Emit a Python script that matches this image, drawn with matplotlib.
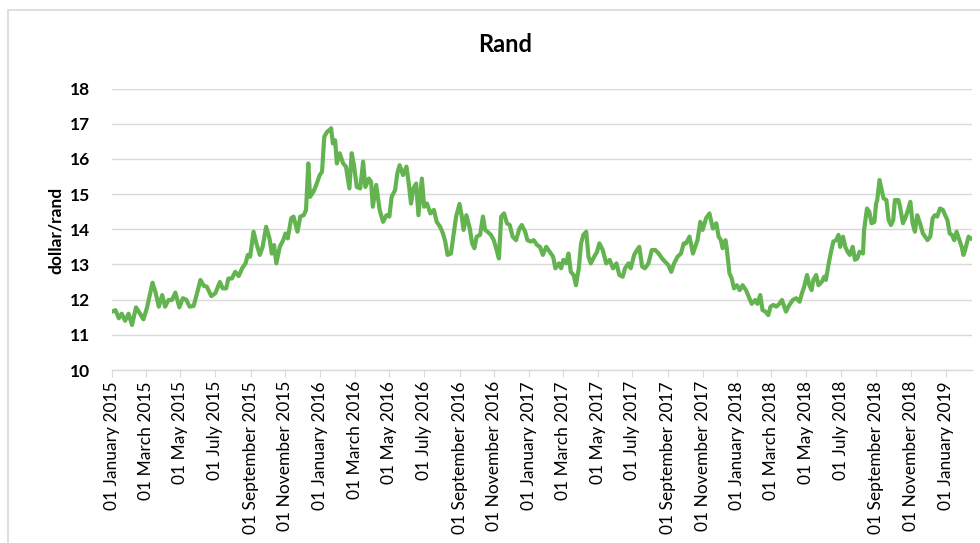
import matplotlib.pyplot as plt
import matplotlib.dates as mdates
from matplotlib.patches import Rectangle
import pandas as pd

plt.rcParams['font.family'] = ['Lato', 'DejaVu Sans']

# Days since 01 January 2015 and dollar/rand value
days = [0, 6, 12, 17, 23, 29, 35, 42, 48, 55, 61, 67, 71, 76, 82, 88, 93, 99, 105, 111,
        118, 124, 130, 136, 143, 149, 155, 161, 166, 174, 181, 189, 194, 200, 204, 210,
        216, 222, 228, 234, 238, 242, 248, 253, 259, 264, 270, 276, 280, 284, 288, 294,
        300, 304, 308, 314, 318, 325, 330, 336, 340, 344, 347, 353, 358, 364,
        368, 372, 377, 381, 384, 387, 391, 394, 399, 405, 410, 416, 420, 424, 429, 435,
        440, 444, 450, 454, 457, 463, 469, 475, 481, 486, 490, 496, 500, 504, 510, 516,
        520, 524, 528, 533, 537, 543, 547, 552, 558, 564, 569, 575, 580, 584, 588, 594,
        598, 603, 609, 613, 616, 621, 627, 631, 635, 639, 645, 650, 654, 658, 664, 669,
        674, 678, 682, 687, 692, 697, 702, 708, 714,
        718, 724, 728, 734, 739, 745, 750, 755, 761, 767, 773, 777, 783, 787, 791, 796,
        800, 804, 809, 813, 818, 822, 826, 831, 835, 839, 845, 850, 854, 860, 866, 872,
        878, 884, 889, 895, 899, 905, 909, 915, 920, 924, 929, 934, 940, 946, 952, 958,
        964, 969, 975, 980, 985, 991, 997, 1002, 1006, 1012, 1018, 1022, 1026, 1031,
        1035, 1041, 1047, 1053, 1059, 1063,
        1067, 1070, 1075, 1077, 1082, 1086, 1090, 1095, 1100, 1105, 1111, 1117, 1121,
        1127, 1131, 1136, 1140, 1145, 1150, 1154, 1159, 1164, 1170, 1174, 1178, 1181,
        1187, 1193, 1199, 1205, 1209, 1213, 1218, 1222, 1226, 1229, 1234, 1238, 1244,
        1248, 1251, 1256, 1260, 1264, 1269, 1273, 1276, 1281, 1285, 1289, 1293, 1298,
        1302, 1306, 1310, 1316, 1318, 1323, 1327, 1331, 1336, 1339, 1341, 1345, 1349,
        1352, 1357, 1361, 1365, 1369, 1372, 1378, 1381, 1386, 1390, 1394, 1399, 1403,
        1407, 1411, 1416, 1421, 1425, 1429, 1434, 1438, 1442, 1446, 1451, 1456, 1460,
        1464, 1468, 1472, 1476, 1480, 1485, 1489, 1492, 1495, 1498, 1501, 1505]

rand = [11.66, 11.70, 11.47, 11.60, 11.40, 11.60, 11.28, 11.78, 11.63, 11.44, 11.75, 12.18,
        12.48, 12.22, 11.80, 12.13, 11.80, 11.99, 11.99, 12.20, 11.78, 12.04, 12.00, 11.80,
        11.82, 12.18, 12.56, 12.39, 12.37, 12.10, 12.18, 12.50, 12.32, 12.32, 12.60, 12.60,
        12.79, 12.67, 12.89, 13.03, 13.27, 13.22, 13.93, 13.60, 13.27, 13.50, 14.07, 13.74,
        13.31, 13.55, 13.03, 13.50, 13.69, 13.88, 13.74, 14.31, 14.36, 13.93, 14.36, 14.40,
        14.55, 15.87, 14.92, 15.07, 15.26, 15.54,
        15.63, 16.63, 16.77, 16.82, 16.87, 16.44, 16.53, 15.87, 16.16, 15.87, 15.78, 15.16,
        16.16, 15.82, 15.20, 15.16, 15.92, 15.20, 15.44, 15.35, 14.64, 15.26, 14.55, 14.21,
        14.40, 14.36, 14.92, 15.11, 15.59, 15.82, 15.54, 15.78, 15.30, 14.73, 15.16, 15.30,
        14.40, 15.44, 14.64, 14.73, 14.45, 14.55, 14.21, 14.07, 13.88, 13.65, 13.27, 13.31,
        13.79, 14.36, 14.72, 14.36, 13.98, 14.40, 14.02, 13.60, 13.46, 13.79, 13.84, 14.36,
        13.98, 13.93, 13.84, 13.69, 13.41, 13.17, 14.36, 14.45, 14.17, 14.12, 13.79, 13.69,
        14.02,
        14.12, 13.93, 13.69, 13.65, 13.69, 13.55, 13.50, 13.27, 13.50, 13.36, 13.22, 12.89,
        13.03, 12.89, 13.13, 13.03, 13.31, 12.79, 12.70, 12.41, 12.89, 13.60, 13.84, 13.93,
        13.22, 13.03, 13.22, 13.36, 13.60, 13.41, 13.03, 13.13, 12.89, 13.03, 12.70, 12.65,
        12.89, 13.03, 12.89, 13.27, 13.41, 13.50, 12.94, 12.89, 13.03, 13.41, 13.41, 13.31,
        13.17, 13.08, 12.98, 12.79, 13.03, 13.22, 13.31, 13.60, 13.60, 13.79, 13.31, 13.50,
        13.69, 14.21, 13.98, 14.31, 14.45, 14.02, 14.17, 13.79,
        13.69, 13.46, 13.69, 13.50, 12.75, 12.60, 12.32, 12.41, 12.27, 12.41, 12.27, 12.04,
        11.88, 11.99, 11.88, 12.13, 11.70, 11.66, 11.56, 11.80, 11.85, 11.80, 11.89, 11.99,
        11.80, 11.66, 11.85, 11.99, 12.04, 11.94, 12.18, 12.37, 12.70, 12.41, 12.27, 12.56,
        12.70, 12.41, 12.51, 12.65, 12.56, 13.03, 13.36, 13.65, 13.69, 13.84, 13.50, 13.79,
        13.50, 13.36, 13.27, 13.50, 13.13, 13.17, 13.36, 13.31, 13.98, 14.59, 14.50, 14.17,
        14.21, 14.73, 14.83, 15.40, 15.11, 14.88, 14.83, 14.26, 14.12, 14.26, 14.83, 14.83,
        14.64, 14.17, 14.31, 14.50, 14.78, 14.17, 13.93, 14.40, 14.17, 13.88, 13.79, 13.69,
        13.79, 14.31, 14.40, 14.36, 14.59, 14.55, 14.40, 14.26, 13.88, 13.84, 13.69, 13.93,
        13.69, 13.50, 13.27, 13.41, 13.60, 13.79, 13.74]

start = pd.Timestamp('2015-01-01')
dates = start + pd.to_timedelta(days, unit='D')

fig = plt.figure(figsize=(9.8, 5.43), dpi=100)
ax = fig.add_axes([0.1143, 0.3186, 0.8775, 0.5184])

# chart-area border (Excel style)
fig.patches.append(Rectangle((8 / 980, -0.1), 1.2, 1.1 - 10 / 543, transform=fig.transFigure,
                             fill=False, edgecolor='#D9D9D9', lw=1.2))

ax.plot(dates, rand, color='#63B450', lw=3.0, solid_joinstyle='round')

ax.set_ylim(10, 18)
ax.set_yticks(range(10, 19))
ax.set_xlim(start, start + pd.Timedelta(days=1507))

ax.xaxis.set_major_locator(mdates.MonthLocator(bymonth=[1, 3, 5, 7, 9, 11]))
ax.xaxis.set_major_formatter(mdates.DateFormatter('%d %B %Y'))
plt.setp(ax.get_xticklabels(), rotation=90, ha='center', va='top')

ax.grid(axis='y', color='#D9D9D9', lw=1)
ax.set_axisbelow(True)
for s in ['top', 'right', 'left']:
    ax.spines[s].set_visible(False)
ax.spines['bottom'].set_color('#D9D9D9')
ax.spines['bottom'].set_linewidth(1)

ax.tick_params(axis='x', length=5, color='#D9D9D9', labelsize=12.5, pad=3)
ax.tick_params(axis='y', length=0, labelsize=12.5, pad=16)
for t in ax.get_yticklabels():
    t.set_fontweight('bold')

# axis title and chart title placed like the Excel original
fig.text(56 / 980, 1 - 230 / 543, 'dollar/rand', rotation=90, ha='center', va='center',
         fontsize=12.5, fontweight='bold')
fig.text(505 / 980, 1 - 45 / 543, 'Rand', ha='center', va='center', fontsize=17, fontweight='bold')

fig.savefig('out.png', dpi=100)
